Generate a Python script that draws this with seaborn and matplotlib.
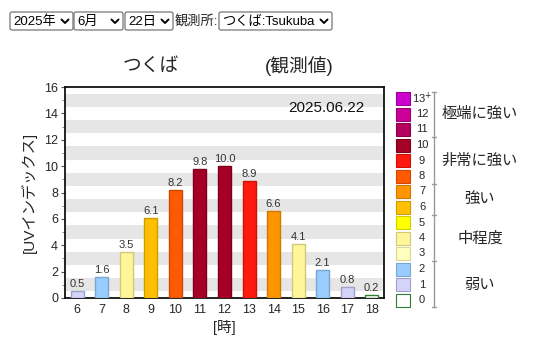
import numpy as np
import pandas as pd
import seaborn as sns
import matplotlib
matplotlib.use("Agg")
import matplotlib.pyplot as plt
from matplotlib.patches import Rectangle, FancyBboxPatch

# Hourly observed UV index, Tsukuba, 2025-06-22
hours = [6, 7, 8, 9, 10, 11, 12, 13, 14, 15, 16, 17, 18]
uv_index = [0.5, 1.6, 3.5, 6.1, 8.2, 9.8, 10.0, 8.9, 6.6, 4.1, 2.1, 0.8, 0.2]

# Colour scale by UV level 0 .. 13+
level_colors = ["#ffffff", "#d4d4fa", "#99ccff", "#ffffc0", "#fff59a", "#ffff00",
                "#ffc000", "#ff9500", "#ff5a00", "#ff1a10", "#a50026", "#b5005e",
                "#cc0099", "#cc00cc"]
level_edges = ["#2e7d32", "#a0a0c8", "#7aa6d0", "#d8d890", "#d2c87a", "#d0d000",
               "#d09c00", "#d07800", "#d04800", "#d01000", "#7a001c", "#880046",
               "#990073", "#990099"]
level_labels = ["0", "1", "2", "3", "4", "5", "6", "7", "8", "9", "10", "11", "12", "13$^{+}$"]
categories = ["弱い", "中程度", "強い", "非常に強い", "極端に強い"]
category_ranges = [(0, 2), (3, 5), (6, 7), (8, 10), (11, 13)]

y_ticks = [0, 2, 4, 6, 8, 10, 12, 14, 16]

sns.set_theme(style="white")
plt.rcParams["font.family"] = ["Liberation Sans", "Noto Sans CJK JP", "DejaVu Sans"]

W, H = 536, 340
fig = plt.figure(figsize=(W / 100, H / 100), dpi=100)

# ---- main bar chart ----
ax = fig.add_axes([65 / W, 1 - 298 / H, (384 - 65) / W, (298 - 87) / H])
levels = [int(np.floor(v + 0.5)) for v in uv_index]
df = pd.DataFrame({"hour": [str(h) for h in hours], "uv": uv_index})
palette = {str(h): level_colors[min(l, 13)] for h, l in zip(hours, levels)}
sns.barplot(data=df, x="hour", y="uv", hue="hour", palette=palette, legend=False,
            width=0.53, saturation=1, ax=ax, zorder=3)
for bar, l in zip(ax.patches, levels):
    bar.set_edgecolor(level_edges[min(l, 13)])
    bar.set_linewidth(1.0)
for i, v in enumerate(uv_index):
    ax.text(i, v + 0.15, f"{v:.1f}", ha="center", va="bottom", fontsize=8,
            color="#333333", zorder=4)

# alternating grey stripes
for k in range(8):
    ax.axhspan(0.5 + 2 * k, 1.5 + 2 * k, color="#e6e6e6", lw=0, zorder=0)

ax.set_xlim(-0.5, len(hours) - 0.5)
ax.set_ylim(0, 16)
ax.set_yticks(y_ticks)
ax.set_yticks(np.arange(1, 16, 2), minor=True)
ax.tick_params(axis="y", which="major", length=3, width=0.8, labelsize=9, pad=2,
               left=True, color="#555555")
ax.tick_params(axis="y", which="minor", length=2, width=0.6, left=True, color="#777777")
ax.tick_params(axis="x", length=0, labelsize=9, pad=4)
for s in ax.spines.values():
    s.set_color("#111111")
    s.set_linewidth(1.3)
ax.set_xlabel("[時]", fontsize=10.5, labelpad=3)
ax.set_ylabel("[UVインデックス]", fontsize=11, labelpad=5)
ax.text(0.94, 0.90, "2025.06.22", transform=ax.transAxes, ha="right", va="center",
        fontsize=11, color="#111111", zorder=5)

# ---- overlay in pixel coordinates: header, title, legend ----
ov = fig.add_axes([0, 0, 1, 1], zorder=-1)
ov.set_xlim(0, W)
ov.set_ylim(H, 0)
ov.axis("off")

def select_box(x0, x1, text):
    ov.add_patch(FancyBboxPatch((x0, 12), x1 - x0, 18, boxstyle="round,pad=0,rounding_size=2",
                                fc="white", ec="#767676", lw=0.9))
    ov.text(x0 + 3, 21.5, text, ha="left", va="center", fontsize=9.5, color="black")
    cx = x1 - 8
    ov.plot([cx - 3.5, cx, cx + 3.5], [19.5, 23, 19.5], color="black", lw=1.4,
            solid_capstyle="round", solid_joinstyle="round")

select_box(10, 73, "2025年")
select_box(74, 123, "6月")
select_box(125, 173, "22日")
ov.text(174.5, 21.5, "観測所:", ha="left", va="center", fontsize=9.5)
select_box(219, 332, "つくば:Tsukuba")

ov.text(151, 66, "つくば", ha="center", va="center", fontsize=13.5)
ov.text(299, 66, "(観測値)", ha="center", va="center", fontsize=13.5)

# legend swatches
top_c, step = 98.5, 15.5
for lvl in range(14):
    cy = top_c + (13 - lvl) * step
    ov.add_patch(Rectangle((396, cy - 6.5), 14, 13, fc=level_colors[lvl],
                           ec=level_edges[lvl], lw=0.8))
    ov.text(422, cy, level_labels[lvl], ha="center", va="center", fontsize=8)

# bracket with separators and category names
def level_y(lvl):
    return top_c + (13 - lvl) * step

ov.plot([434, 434], [level_y(13) - 7, level_y(0) + 7], color="#999999", lw=1)
for b in [13.5, 10.5, 7.5, 5.5, 2.5, -0.5]:
    y = level_y(b) if -0.5 < b < 13.5 else (level_y(13) - 7 if b > 13 else level_y(0) + 7)
    ov.plot([432, 436], [y, y], color="#999999", lw=1)
for name, (lo, hi) in zip(categories, category_ranges):
    yc = (level_y(lo) + level_y(hi)) / 2
    ov.text(480, yc, name, ha="center", va="center", fontsize=11)

fig.savefig("out.png", dpi=100)
